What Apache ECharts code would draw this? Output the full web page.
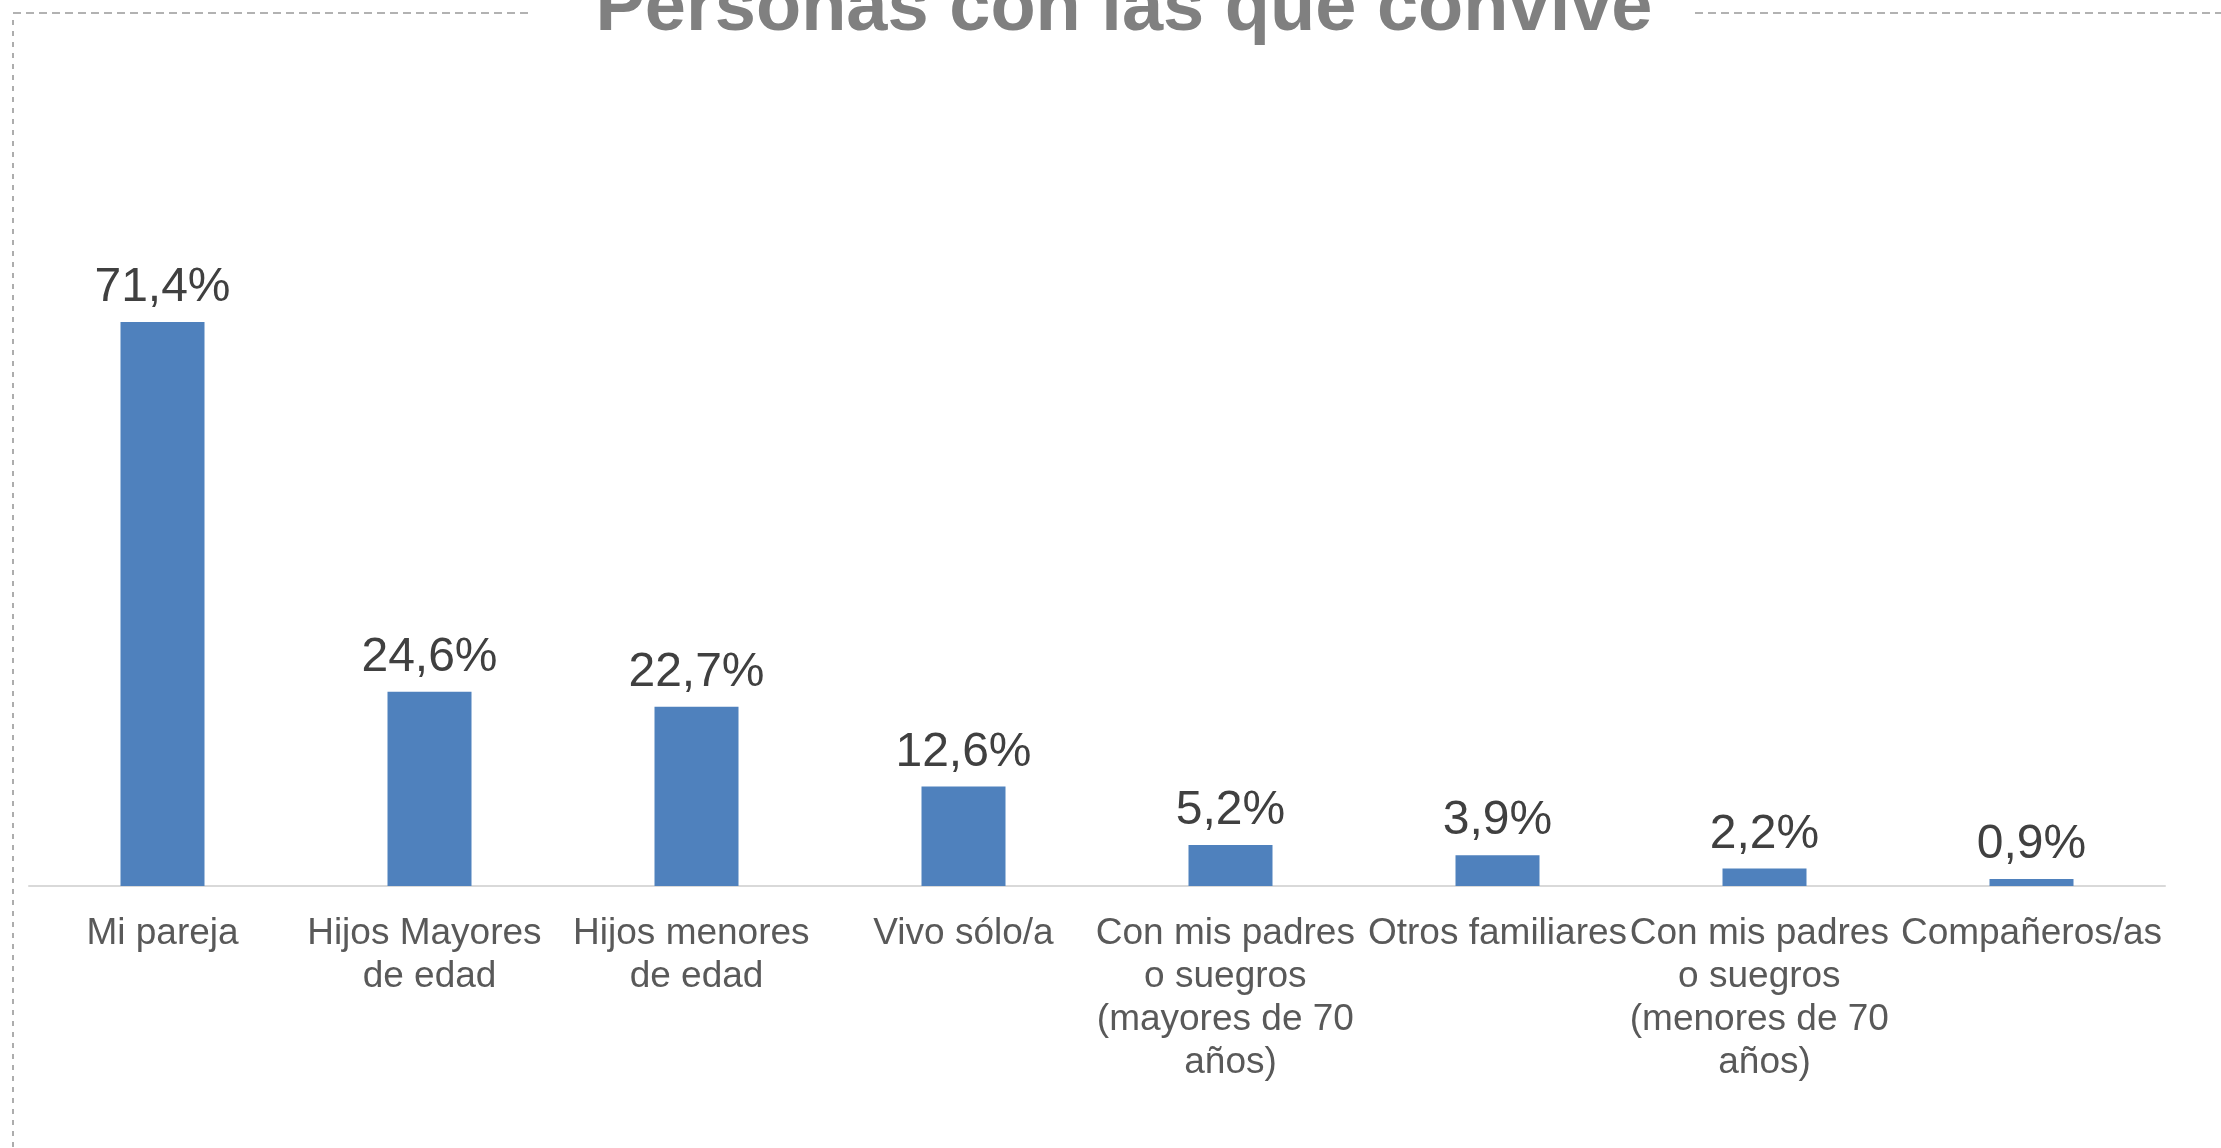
<!DOCTYPE html>
<html>
<head>
<meta charset="utf-8">
<title>Personas con las que convive</title>
<script src="https://cdn.jsdelivr.net/npm/echarts@6/dist/echarts.min.js"></script>
<style>
  html, body { margin: 0; padding: 0; background: #fff; }
  #chart { width: 2221px; height: 1148px; }
</style>
</head>
<body>
<div id="chart"></div>
<script>
// datos
const categorias = [
  'Mi pareja',
  'Hijos Mayores de edad',
  'Hijos menores de edad',
  'Vivo sólo/a',
  'Con mis padres o suegros (mayores de 70 años)',
  'Otros familiares',
  'Con mis padres o suegros (menores de 70 años)',
  'Compañeros/as'
]
const porcentajes = [71.4, 24.6, 22.7, 12.6, 5.2, 3.9, 2.2, 0.9]
const titulo = 'Personas con las que convive'

const FUENTE = "'Liberation Sans', Arial, sans-serif"
const borde = { stroke: '#999999', lineWidth: 1.6 }

const chart = echarts.init(document.getElementById('chart'))

chart.setOption({
  animation: false,
  grid: { left: 29, right: 56, top: 254, bottom: 262 },
  xAxis: {
    type: 'category',
    data: categorias,
    axisLine: { lineStyle: { color: '#d9d9d9', width: 2 } },
    axisTick: { show: false },
    axisLabel: {
      interval: 0,
      margin: 26,
      width: 284,
      overflow: 'break',
      color: '#595959',
      fontFamily: FUENTE,
      fontSize: 37,
      lineHeight: 43,
      align: 'center'
    }
  },
  yAxis: {
    type: 'value',
    min: 0,
    max: 80,
    show: false,
    splitLine: { show: false }
  },
  series: [{
    type: 'bar',
    data: porcentajes,
    barWidth: 84,
    itemStyle: { color: '#4f81bd' },
    label: {
      show: true,
      position: 'top',
      distance: 10,
      color: '#404040',
      fontFamily: FUENTE,
      fontSize: 48,
      formatter: p => p.value.toFixed(1).replace('.', ',') + '%'
    }
  }],
  graphic: [
    {
      type: 'text',
      x: 1124,
      y: 10,
      style: {
        text: titulo,
        x: 0,
        y: 0,
        align: 'center',
        verticalAlign: 'middle',
        fill: '#808080',
        font: "bold 74px 'Liberation Sans', Arial, sans-serif"
      }
    },
    {
      type: 'line',
      shape: { x1: 13, y1: 13, x2: 528, y2: 13 },
      style: Object.assign({ lineDash: [8, 5] }, borde)
    },
    {
      type: 'line',
      shape: { x1: 1695, y1: 13, x2: 2221, y2: 13 },
      style: Object.assign({ lineDash: [8, 5] }, borde)
    },
    {
      type: 'line',
      shape: { x1: 13, y1: 20, x2: 13, y2: 1148 },
      style: Object.assign({ lineDash: [5, 6] }, borde)
    }
  ]
})
</script>
</body>
</html>
